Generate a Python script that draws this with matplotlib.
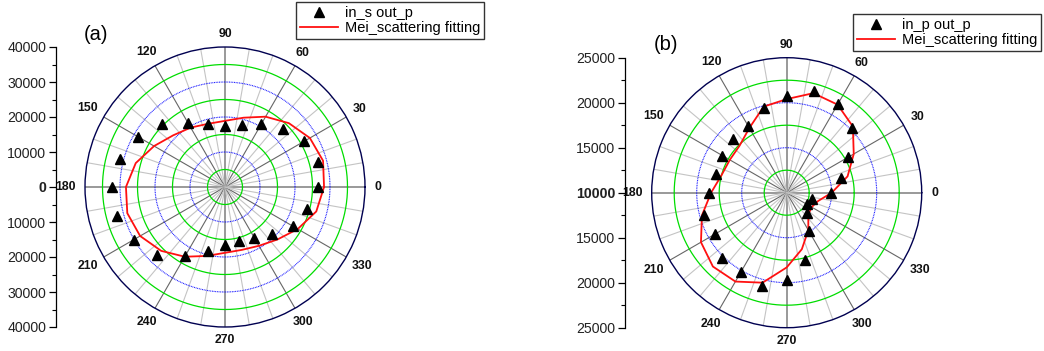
import matplotlib
matplotlib.use("Agg")
import matplotlib.pyplot as plt
import numpy as np
from matplotlib.lines import Line2D
from matplotlib.ticker import FuncFormatter, MultipleLocator

plt.rcParams["font.family"] = ["Liberation Sans", "DejaVu Sans"]

# measurement angles (degrees), shared by both panels
angles_deg = [0, 15, 30, 45, 60, 75, 90, 105, 120, 135, 150, 165,
              180, 195, 210, 225, 240, 255, 270, 285, 300, 315, 330, 345]

# (a) in_s out_p
a_points = [26570, 27600, 26200, 23430, 20810, 18480, 17520, 18760, 20950, 25390, 28850, 31010,
            32190, 31860, 30150, 27620, 22670, 19000, 16670, 15910, 16730, 19190, 22480, 24190]
a_fit = [28300, 29000, 28000, 25800, 23200, 20500, 18900, 18700, 19600, 20900, 23400, 26400,
         28300, 28900, 28000, 25800, 23000, 20400, 18800, 18600, 19400, 21200, 24000, 27000]

# (b) in_p out_p
b_points = [14890, 16270, 17830, 20240, 21370, 21680, 20700, 19800, 18580, 18460, 18250, 18160,
            18670, 19550, 19220, 20240, 20160, 20690, 19700, 17700, 14950, 13200, 12600, 12870]
b_fit = [15000, 17000, 18600, 20400, 21300, 21450, 20400, 19900, 18300, 17400, 17300, 17500,
         18400, 19750, 21000, 21600, 21400, 20350, 18300, 16500, 14800, 13400, 13200, 13600]

a_range = (0, 40000)
a_major = [10000, 20000, 30000]
a_minor = [5000, 15000, 25000, 35000]
b_range = (10000, 25000)
b_major = [15000, 20000]
b_minor = [12500, 17500, 22500]

angle_labels = list(range(0, 360, 30))

W, H = 1044, 351


def px_rect(x0, y0, x1, y1):
    """Figure-fraction rect from pixel box (top-left origin)."""
    return [x0 / W, 1 - y1 / H, (x1 - x0) / W, (y1 - y0) / H]


def polar_panel(fig, rect, rlim, major, minor, points, fit):
    rmin, rmax = rlim
    ax = fig.add_axes(rect, projection="polar")
    ax.set_ylim(rmin, rmax)
    ax.set_xticks([])
    ax.set_yticks([])
    ax.grid(False)
    ax.spines["polar"].set_color("#000050")
    ax.spines["polar"].set_linewidth(1.0)

    ring = np.linspace(0, 2 * np.pi, 721)
    for r in minor:
        ax.plot(ring, np.full_like(ring, r), color="#00dd00", lw=0.9, zorder=1)
    for r in major:
        ax.plot(ring, np.full_like(ring, r), color="#1010ff", lw=0.8,
                ls=(0, (0.8, 0.7)), zorder=1)

    for deg in range(0, 360, 10):
        t = np.deg2rad(deg)
        if deg % 90 == 0:
            c, lw = "#999999", 1.4
        elif deg % 30 == 0:
            c, lw = "#666666", 0.8
        else:
            c, lw = "#c4c4c4", 0.8
        ax.plot([t, t], [rmin, rmax], color=c, lw=lw, zorder=0.5)

    th = np.deg2rad(angles_deg + [angles_deg[0]])
    ax.plot(th, fit + [fit[0]], color="#ff1010", lw=1.3, zorder=3)
    ax.plot(np.deg2rad(angles_deg), points, ls="none", marker="^", ms=7.5,
            color="black", zorder=4, clip_on=False)

    for deg in angle_labels:
        t = np.deg2rad(deg)
        w = 6.5 * len(str(deg))
        d = 13 + 0.5 * abs(np.cos(t)) * (w - 6.5)
        ax.annotate(str(deg), xy=(t, rmax), xycoords="data",
                    xytext=(d * np.cos(t), d * np.sin(t)), textcoords="offset pixels",
                    ha="center", va="center", fontsize=8.8, fontweight="bold",
                    color="#111111", annotation_clip=False)
    return ax


def radial_scale(fig, rect, rlim, step):
    rmin, rmax = rlim
    span = rmax - rmin
    ax = fig.add_axes(rect)
    ax.set_ylim(-span, span)
    for s in ("top", "right", "bottom"):
        ax.spines[s].set_visible(False)
    ax.spines["left"].set_linewidth(0.9)
    ax.patch.set_visible(False)
    ax.set_xticks([])
    ax.yaxis.set_major_locator(MultipleLocator(step))
    ax.yaxis.set_minor_locator(MultipleLocator(step / 2))
    ax.yaxis.set_major_formatter(FuncFormatter(lambda v, p: f"{rmin + abs(v):.0f}"))
    ax.tick_params(axis="y", which="major", length=5, width=0.9, labelsize=10.2,
                   pad=2, labelcolor="#222222")
    ax.tick_params(axis="y", which="minor", length=3, width=0.8)
    for lab, v in zip(ax.get_yticklabels(), ax.get_yticks()):
        if abs(v) < 1e-6:
            lab.set_fontweight("bold")
    return ax


fig = plt.figure(figsize=(W / 100, H / 100), dpi=100)

# panel (a)
polar_panel(fig, px_rect(85, 47, 365, 327), a_range, a_major, a_minor, a_points, a_fit)
radial_scale(fig, px_rect(56, 47, 57, 327), a_range, 10000)
fig.text(96 / W, 1 - 35 / H, "(a)", fontsize=14.5, ha="center", va="center")

# panel (b)
polar_panel(fig, px_rect(651.7, 57.7, 921.7, 327.7), b_range, b_major, b_minor, b_points, b_fit)
radial_scale(fig, px_rect(625, 57.7, 626, 327.7), b_range, 5000)
fig.text(666 / W, 1 - 45 / H, "(b)", fontsize=14.5, ha="center", va="center")


def legend(label, x, y):
    handles = [
        Line2D([], [], ls="none", marker="^", ms=7.5, color="black", label=label),
        Line2D([], [], color="#ff1010", lw=1.3, label="Mei_scattering fitting"),
    ]
    fig.legend(handles=handles, loc="upper left", bbox_to_anchor=(x / W, 1 - y / H),
               fancybox=False, edgecolor="#333333", framealpha=1, fontsize=10.5,
               borderaxespad=0, handlelength=2.6, borderpad=0.25, labelspacing=0.1,
               handletextpad=0.5)


legend("in_s out_p", 296, 2)
legend("in_p out_p", 853, 14)

fig.savefig("out.png", dpi=100)
